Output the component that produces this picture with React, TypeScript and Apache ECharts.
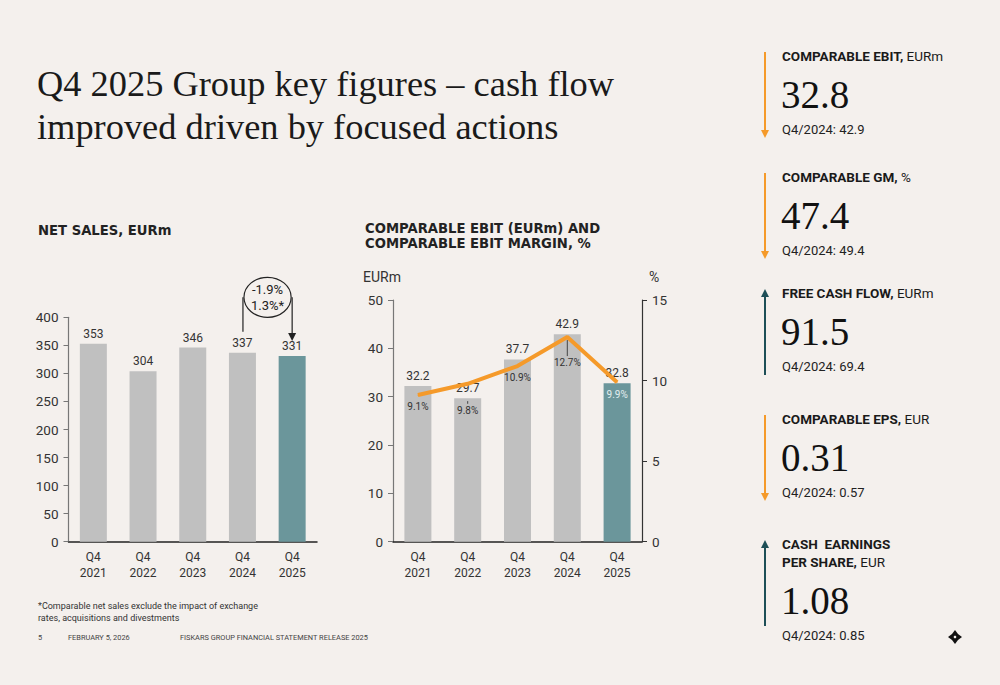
import React, { useEffect, useRef } from 'react';
import * as echarts from 'echarts';

const categories = ['Q4\n2021', 'Q4\n2022', 'Q4\n2023', 'Q4\n2024', 'Q4\n2025'];
const netSales = [353, 304, 346, 337, 331];
const comparableEbit = [32.2, 29.7, 37.7, 42.9, 32.8];
const ebitMargin = [9.1, 9.8, 10.9, 12.7, 9.9];
const netSalesChange = ['-1.9%', '1.3%*'];

const titleLines = ['Q4 2025 Group key figures – cash flow', 'improved driven by focused actions'];
const netSalesTitle = 'NET SALES, EURm';
const ebitTitle = ['COMPARABLE EBIT (EURm) AND', 'COMPARABLE EBIT MARGIN, %'];
const footnote = ['*Comparable net sales exclude the impact of exchange', 'rates, acquisitions and divestments'];
const footer = ['5', 'FEBRUARY 5, 2026', 'FISKARS GROUP FINANCIAL STATEMENT RELEASE 2025'];

const kpiTitles = [['COMPARABLE EBIT'], ['COMPARABLE GM'], ['FREE CASH FLOW'], ['COMPARABLE EPS'], ['CASH  EARNINGS', 'PER SHARE']];
const kpiUnits = ['EURm', '%', 'EURm', 'EUR', 'EUR'];
const kpiValues = ['32.8', '47.4', '91.5', '0.31', '1.08'];
const kpiPrevious = ['42.9', '49.4', '69.4', '0.57', '0.85'];
const kpiTrend = ['down', 'down', 'up', 'down', 'up'];

const BG = '#f4f0ed';
const GRAY = '#c0c0c0';
const TEAL = '#6b969b';
const ORANGE = '#f59a2a';
const DARK_TEAL = '#1d4f57';
const TXT = '#222';
const SANS = 'Roboto';
const SERIF = 'Liberation Serif';

export default function App() {
  const ref = useRef<HTMLDivElement>(null);

  useEffect(() => {
    if (!ref.current) return;
    const chart = echarts.init(ref.current, undefined, { renderer: 'svg' });
    const last = categories.length - 1;

    const catAxis = (gridIndex: number) => ({
      type: 'category',
      gridIndex,
      data: categories,
      axisLine: { show: true, lineStyle: { color: '#222', width: 1.5 } },
      axisTick: { show: false },
      axisLabel: { color: '#333', fontSize: 12, lineHeight: 16, margin: 7, fontFamily: SANS },
    });

    const valAxis = (gridIndex: number, min: number, max: number, interval: number, color: string, position = 'left') => ({
      type: 'value',
      gridIndex,
      position,
      min,
      max,
      interval,
      axisLine: { show: true, lineStyle: { color, width: 1.2 } },
      axisTick: { show: true, length: 5, lineStyle: { color } },
      splitLine: { show: false },
      axisLabel: { color: '#333', fontSize: 13.5, margin: 10, fontFamily: SANS },
    });

    const marginGaps = [6, 21, 6, 20, 7];

    const option: any = {
      animation: false,
      backgroundColor: BG,
      textStyle: { fontFamily: SANS },
      grid: [
        { left: 68.5, top: 317.3, width: 248.5, height: 224.4 },
        { left: 393, top: 300, width: 249, height: 241.7 },
      ],
      xAxis: [catAxis(0), catAxis(1)],
      yAxis: [
        valAxis(0, 0, 400, 50, '#777'),
        valAxis(1, 0, 50, 10, '#777'),
        valAxis(1, 0, 15, 5, '#333', 'right'),
      ],
      series: [
        {
          type: 'bar',
          xAxisIndex: 0,
          yAxisIndex: 0,
          barWidth: 27,
          data: netSales.map((v, i) => ({ value: v, itemStyle: { color: i === last ? TEAL : GRAY } })),
          label: { show: true, position: 'top', distance: 4, fontSize: 12, color: '#333', fontFamily: SANS },
        },
        {
          type: 'bar',
          xAxisIndex: 1,
          yAxisIndex: 1,
          barWidth: 27,
          data: comparableEbit.map((v, i) => ({ value: v, itemStyle: { color: i === last ? TEAL : GRAY } })),
          label: { show: true, position: 'top', distance: 4, fontSize: 12, color: '#333', fontFamily: SANS },
        },
        {
          type: 'line',
          xAxisIndex: 1,
          yAxisIndex: 2,
          symbol: 'circle',
          symbolSize: 1,
          itemStyle: { color: ORANGE },
          lineStyle: { color: ORANGE, width: 4 },
          data: ebitMargin.map((v, i) => ({
            value: v,
            label: { distance: marginGaps[i], color: i === last ? '#e3eff0' : '#333' },
          })),
          label: {
            show: true,
            position: 'bottom',
            fontSize: 10,
            fontFamily: SANS,
            formatter: (p: any) => `${p.value}%`,
          },
          z: 3,
        },
      ],
    };

    chart.setOption(option);

    const g: any[] = [];

    // Title
    titleLines.forEach((t, i) => {
      g.push({
        type: 'text',
        x: 37,
        y: 84 + i * 43,
        style: { text: t, fill: '#1a1a1a', font: `36.4px "${SERIF}"`, verticalAlign: 'middle', align: 'left' },
      });
    });

    // Chart headers
    g.push({
      type: 'text', x: 38, y: 230,
      style: { text: netSalesTitle, fill: TXT, font: `bold 13.2px "DejaVu Sans"`, verticalAlign: 'middle' },
    });
    ebitTitle.forEach((t, i) => {
      g.push({
        type: 'text', x: 365, y: 228 + i * 15.5,
        style: { text: t, fill: TXT, font: `bold 13.2px "DejaVu Sans"`, verticalAlign: 'middle' },
      });
    });
    g.push({ type: 'text', x: 363, y: 277, style: { text: 'EURm', fill: '#333', font: `14px ${SANS}`, verticalAlign: 'middle' } });
    g.push({ type: 'text', x: 649, y: 277, style: { text: '%', fill: '#333', font: `14px ${SANS}`, verticalAlign: 'middle' } });

    // Net sales change annotation
    const p3 = chart.convertToPixel({ xAxisIndex: 0, yAxisIndex: 0 }, [3, netSales[3]]) as number[];
    const p4 = chart.convertToPixel({ xAxisIndex: 0, yAxisIndex: 0 }, [4, netSales[4]]) as number[];
    const pTop = chart.convertToPixel({ xAxisIndex: 0, yAxisIndex: 0 }, [0, 400]) as number[];
    const lx = p3[0] + 0.5;
    const rx = p4[0];
    const cx = (lx + rx) / 2;
    const cy = pTop[1] - 20;
    const erx = (rx - lx) / 2 - 1;
    const ery = 20;
    g.push({ type: 'polyline', shape: { points: [[lx, p3[1] - 21], [lx, cy]] }, style: { stroke: '#222', lineWidth: 1.2, fill: 'none' } });
    g.push({ type: 'polyline', shape: { points: [[rx, cy], [rx, p4[1] - 22]] }, style: { stroke: '#222', lineWidth: 1.2, fill: 'none' } });
    g.push({ type: 'polygon', shape: { points: [[rx - 4, p4[1] - 23], [rx + 4, p4[1] - 23], [rx, p4[1] - 15]] }, style: { fill: '#222' } });
    g.push({ type: 'ellipse', shape: { cx, cy, rx: erx, ry: ery }, style: { fill: BG, stroke: '#222', lineWidth: 1.2 }, z: 10 });
    netSalesChange.forEach((t, i) => {
      g.push({
        type: 'text', x: cx, y: cy - 8 + i * 16, z: 11,
        style: { text: t, fill: '#222', font: `13px ${SANS}`, align: 'center', verticalAlign: 'middle' },
      });
    });

    // Leader ticks between EBIT values and margin labels
    [1, 3].forEach((i) => {
      const pm = chart.convertToPixel({ xAxisIndex: 1, yAxisIndex: 2 }, [i, ebitMargin[i]]) as number[];
      const pb = chart.convertToPixel({ xAxisIndex: 1, yAxisIndex: 1 }, [i, comparableEbit[i]]) as number[];
      const y1 = Math.max(pm[1], pb[1]) + 3;
      const y2 = pm[1] + marginGaps[i] - 1;
      g.push({ type: 'line', shape: { x1: pm[0], y1, x2: pm[0], y2 }, style: { stroke: '#444', lineWidth: 1 }, z: 12 });
    });

    // KPI panel
    const blockTop = [50, 171, 287, 413, 538];
    const ax = 765;
    kpiTitles.forEach((lines, i) => {
      const top = blockTop[i];
      const extra = (lines.length - 1) * 18;
      const color = kpiTrend[i] === 'up' ? DARK_TEAL : ORANGE;
      const y1 = top + 2;
      const y2 = top + 88;
      if (kpiTrend[i] === 'down') {
        g.push({ type: 'line', shape: { x1: ax, y1, x2: ax, y2: y2 - 6 }, style: { stroke: color, lineWidth: 2 } });
        g.push({ type: 'polygon', shape: { points: [[ax - 4, y2 - 8], [ax + 4, y2 - 8], [ax, y2]] }, style: { fill: color } });
      } else {
        g.push({ type: 'line', shape: { x1: ax, y1: y1 + 6, x2: ax, y2 }, style: { stroke: color, lineWidth: 2 } });
        g.push({ type: 'polygon', shape: { points: [[ax, y1], [ax - 4, y1 + 8], [ax + 4, y1 + 8]] }, style: { fill: color } });
      }
      const rich = lines
        .map((l, k) => (k === lines.length - 1 ? `{b|${l},}{r| ${kpiUnits[i]}}` : `{b|${l}}`))
        .join('\n');
      g.push({
        type: 'text', x: 782, y: top + 6 - 9,
        style: {
          text: rich,
          verticalAlign: 'top',
          rich: {
            b: { fontFamily: SANS, fontWeight: 'bold', fontSize: 13.5, fill: '#1a1a1a', lineHeight: 18 },
            r: { fontFamily: SANS, fontSize: 13.5, fill: '#1a1a1a', lineHeight: 18 },
          },
        },
      });
      g.push({
        type: 'text', x: 781, y: top + 57 + extra - 13,
        style: { text: kpiValues[i], fill: '#111', font: `39px "${SERIF}"`, verticalAlign: 'middle' },
      });
      g.push({
        type: 'text', x: 782, y: top + 79 + extra,
        style: { text: `Q4/2024: ${kpiPrevious[i]}`, fill: '#222', font: `13px ${SANS}`, verticalAlign: 'middle' },
      });
    });

    // Diamond icon
    const dx = 955, dy = 637;
    g.push({
      type: 'polygon',
      shape: { points: [[dx, dy - 7], [dx + 3, dy - 3], [dx + 7, dy], [dx + 3, dy + 3], [dx, dy + 7], [dx - 3, dy + 3], [dx - 7, dy], [dx - 3, dy - 3]] },
      style: { fill: '#111' },
    });
    g.push({ type: 'circle', shape: { cx: dx, cy: dy, r: 1.3 }, style: { fill: BG } });

    // Footnote and footer
    footnote.forEach((t, i) => {
      g.push({ type: 'text', x: 38, y: 606 + i * 12, style: { text: t, fill: '#333', font: `9px ${SANS}`, verticalAlign: 'middle' } });
    });
    const footX = [38, 68, 180];
    footer.forEach((t, i) => {
      g.push({ type: 'text', x: footX[i], y: 637, style: { text: t, fill: '#444', font: `7.4px ${SANS}`, verticalAlign: 'middle' } });
    });

    chart.setOption({ graphic: g });

    return () => chart.dispose();
  }, []);

  return <div ref={ref} style={{ position: 'fixed', left: 0, top: 0, width: 1000, height: 685 }} />;
}
